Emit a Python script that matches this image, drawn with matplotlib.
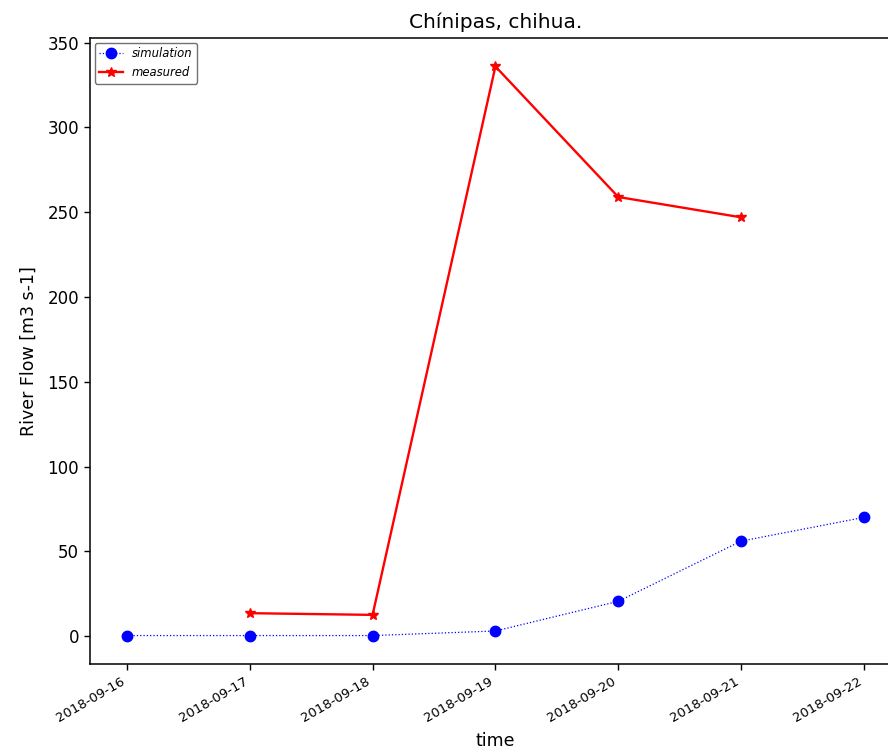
import matplotlib
matplotlib.use("Agg")
import matplotlib.pyplot as plt
import matplotlib.dates as mdates
import numpy as np
import pandas as pd

sim_dates = pd.to_datetime(["2018-09-16", "2018-09-17", "2018-09-18", "2018-09-19",
                            "2018-09-20", "2018-09-21", "2018-09-22"])
sim_values = [0.3, 0.3, 0.3, 3.0, 20.5, 56.0, 70.0]

meas_dates = pd.to_datetime(["2018-09-17", "2018-09-18", "2018-09-19",
                             "2018-09-20", "2018-09-21"])
meas_values = [13.5, 12.5, 336.0, 259.0, 247.0]

title = "Chínipas, chihua."
xlabel = "time"
ylabel = "River Flow [m3 s-1]"

fig = plt.figure(figsize=(8.88, 7.52), dpi=100)
ax = fig.add_axes([0.1014, 0.117, 0.913, 0.8325])

ax.plot(sim_dates, sim_values, color="blue", linestyle=":", linewidth=0.9,
        marker="o", markersize=7.5, label="simulation")
ax.plot(meas_dates, meas_values, color="red", linestyle="-", linewidth=1.7,
        marker="*", markersize=7, label="measured")

ax.set_title(title, fontsize=14.5, pad=7)
ax.set_xlabel(xlabel, fontsize=12.5, labelpad=5)
ax.set_ylabel(ylabel, fontsize=12.5, labelpad=7)
ax.xaxis.set_major_locator(mdates.DayLocator())
ax.xaxis.set_major_formatter(mdates.DateFormatter("%Y-%m-%d"))
for lbl in ax.get_xticklabels():
    lbl.set_rotation(30)
    lbl.set_ha("right")
    lbl.set_fontsize(9.5)
ax.tick_params(axis="y", labelsize=12)
ax.tick_params(length=4.5, width=1)
for s in ax.spines.values():
    s.set_linewidth(1.1)
ax.legend(loc="upper left", prop={"size": 8.4, "style": "italic"},
          edgecolor="0.3", fancybox=True, borderpad=0.4, handlelength=2.0,
          borderaxespad=0.4)

fig.savefig("out.png", dpi=100)
